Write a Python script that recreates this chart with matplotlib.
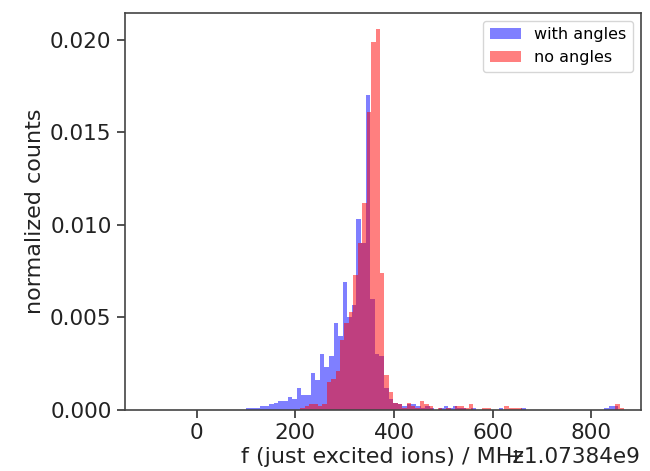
import numpy as np
import matplotlib
matplotlib.use("Agg")
import matplotlib.pyplot as plt

OFFSET = 1.07384e9

# "with angles" histogram (bin width 9.3 MHz, first left edge 100.7 MHz relative to offset)
blue_start = 100.7
blue_width = 9.3
blue_heights = [
    0.0001, 0.0001, 0.0001, 0.0002, 0.0002, 0.0003, 0.0004, 0.0005, 0.0005, 0.0007,
    0.0006, 0.0012, 0.0008, 0.0008, 0.0020, 0.0016, 0.0030, 0.0023, 0.0029, 0.0047,
    0.0040, 0.0069, 0.0050, 0.0057, 0.0103, 0.0090, 0.0170, 0.0060, 0.0030, 0.0029,
    0.0012, 0.0006, 0.0004, 0.0003, 0.0002, 0.0003, 0.0003, 0.0002, 0.0001, 0.0002,
    0.0001, 0.0000, 0.0001, 0.0002, 0.0001, 0.0002, 0.0001, 0.0001, 0.0000, 0.0001,
    0.0000, 0.0000, 0.0000, 0.0000, 0.0000, 0.0001, 0.0000, 0.0000, 0.0000, 0.0000,
    0.0001, 0.0000, 0.0000, 0.0000, 0.0000, 0.0000, 0.0000, 0.0000, 0.0000, 0.0000,
    0.0000, 0.0000, 0.0000, 0.0000, 0.0000, 0.0000, 0.0000, 0.0000, 0.0001, 0.0002,
    0.0002,
]

# "no angles" histogram (bin width 9.0 MHz, first left edge 209.6 MHz relative to offset)
red_start = 209.6
red_width = 9.0
red_heights = [
    0.0001, 0.0002, 0.0003, 0.0003, 0.0002, 0.0003, 0.0015, 0.0017, 0.0021, 0.0038,
    0.0047, 0.0053, 0.0073, 0.0090, 0.0112, 0.0161, 0.0199, 0.0206, 0.0074, 0.0019,
    0.0010, 0.0004, 0.0003, 0.0001, 0.0004, 0.0002, 0.0001, 0.0005, 0.0003, 0.0002,
    0.0000, 0.0001, 0.0000, 0.0001, 0.0000, 0.0002, 0.0002, 0.0001, 0.0003, 0.0000,
    0.0000, 0.0001, 0.0001, 0.0000, 0.0000, 0.0000, 0.0002, 0.0001, 0.0001, 0.0001,
    0.0000, 0.0000, 0.0000, 0.0000, 0.0000, 0.0000, 0.0000, 0.0000, 0.0000, 0.0000,
    0.0000, 0.0000, 0.0000, 0.0000, 0.0000, 0.0000, 0.0000, 0.0000, 0.0000, 0.0000,
    0.0000, 0.0003, 0.0001,
]

x_ticks = [0, 200, 400, 600, 800]
y_ticks = [0.000, 0.005, 0.010, 0.015, 0.020]
x_label = "f (just excited ions) / MHz"
y_label = "normalized counts"
labels = ["with angles", "no angles"]

blue_edges = OFFSET + blue_start + blue_width * np.arange(len(blue_heights) + 1)
red_edges = OFFSET + red_start + red_width * np.arange(len(red_heights) + 1)

fig = plt.figure(figsize=(6.5, 4.71), dpi=100)
ax = fig.add_axes([0.192, 0.1295, 0.794, 0.843])

ax.hist(blue_edges[:-1], bins=blue_edges, weights=blue_heights,
        color="b", alpha=0.5, label=labels[0])
ax.hist(red_edges[:-1], bins=red_edges, weights=red_heights,
        color="r", alpha=0.5, label=labels[1])

ax.set_xlim(OFFSET - 146, OFFSET + 901)
ax.set_ylim(0, 0.02146)
ax.set_xticks([OFFSET + t for t in x_ticks])
ax.set_yticks(y_ticks)
ax.ticklabel_format(axis="x", useOffset=OFFSET)
ax.yaxis.set_major_formatter(matplotlib.ticker.FormatStrFormatter("%.3f"))

ax.tick_params(labelsize=15.5, length=6, width=1.2, colors="#333333", labelcolor="#222222")
ax.xaxis.get_offset_text().set_fontsize(15.5)
ax.xaxis.get_offset_text().set_color("#222222")
for s in ax.spines.values():
    s.set_linewidth(1.2)
    s.set_color("#444444")

ax.set_xlabel(x_label, fontsize=16, color="#222222", labelpad=3)
ax.set_ylabel(y_label, fontsize=16, color="#222222")
ax.legend(loc="upper right", fontsize=11.5)

fig.savefig("out.png", dpi=100)
